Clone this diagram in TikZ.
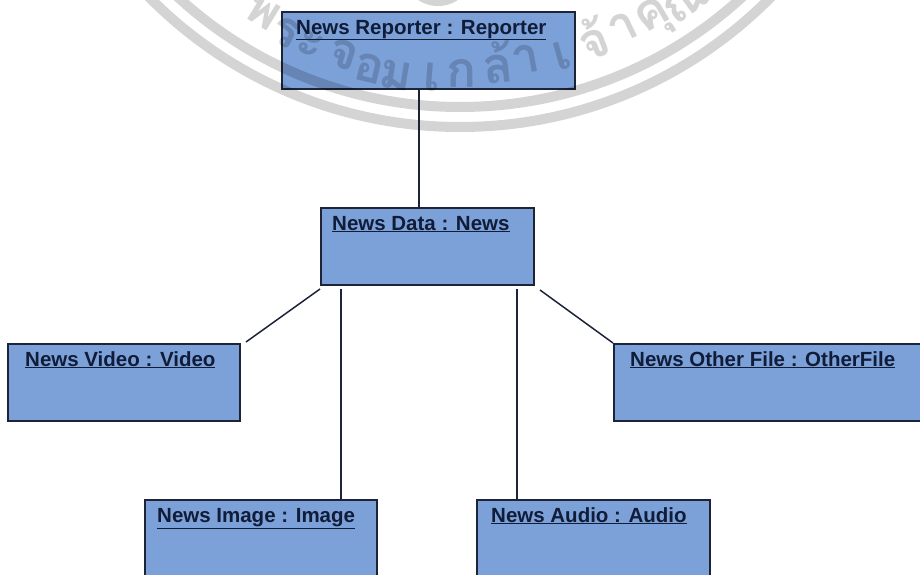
\documentclass[tikz,border=0pt]{standalone}
\usepackage{fontspec}
\setmainfont{Liberation Sans}
\newfontfamily\thaifont[Script=Thai]{Loma}
\definecolor{boxblue}{RGB}{124,161,217}
\definecolor{boxline}{RGB}{30,36,56}
\definecolor{titleink}{RGB}{16,28,56}
\tikzset{
	objbox/.style={draw=boxline,fill=boxblue,line width=1.5pt,anchor=north west,minimum height=77pt,inner sep=0pt},
	title/.style={anchor=base west,inner sep=0pt,text=titleink,font=\bfseries\fontsize{20.5}{24}\selectfont},
	link/.style={draw=boxline,line width=1.5pt},
	seal/.style={draw=black,opacity=0.17},
	sealtext/.style={text=black,text opacity=0.17,font=\thaifont\bfseries\fontsize{50}{54}\selectfont}
}
\begin{document}
\begin{tikzpicture}[x=1pt,y=-1pt]
		\useasboundingbox (0,0) rectangle (920,574);
		\clip (0,0) rectangle (920,574);
		
		\node[objbox,minimum width=293pt] (reporter) at (281,11) {};
		\node[objbox,minimum width=213pt] (data) at (320,207) {};
		\node[objbox,minimum width=232pt] (video) at (7,343) {};
		\node[objbox,minimum width=320pt] (otherfile) at (613,343) {};
		\node[objbox,minimum width=232pt] (image) at (144,499) {};
		\node[objbox,minimum width=233pt] (audio) at (476,499) {};
		
		\draw [seal,line width=10pt] (460,-310) circle (437);
		\draw [seal,line width=10pt] (460,-310) circle (417);
		\draw [seal,line width=6pt] (438,-30) circle (33);
		\foreach \glyph/\gx/\gy in {พ/263/12,ระ/298/38,จ/344/55,อ/369/68,ม/396/75,เ/432/77,ก/462/73,ล้/498/62,า/526/59,เ/562/56,จ้/593/38,า/623/28,คุ/655/20,ณ/686/2}{
			\pgfmathsetmacro\grot{atan2(\gx-460,\gy+310)}
			\node[sealtext,rotate=\grot] at (\gx,\gy) {\glyph};
		}
		
		\coordinate (reporterend) at (419,90);
		\coordinate (videostart) at (320,289);
		\coordinate (videoend) at (246,342);
		\coordinate (imagestart) at (341,289);
		\coordinate (audiostart) at (517,289);
		\coordinate (otherstart) at (540,290);
		\draw [link] (reporterend)--(reporterend |- data.north);
		\draw [link] (videostart)--(videoend);
		\draw [link] (imagestart)--(imagestart |- image.north);
		\draw [link] (audiostart)--(audiostart |- audio.north);
		\draw [link] (otherstart)--(otherfile.north west);
		
		\node[title] (reportertitle) at (296,34) {\underline{News Reporter : Reporter}};
		\node[title] (datatitle) at (332,230) {\underline{News Data : News}};
		\node[title] (videotitle) at (25,366) {\underline{News Video : Video}};
		\node[title] (othertitle) at (630,366) {\underline{News Other File : OtherFile}};
		\node[title] (imagetitle) at (157,522) {\underline{News Image : Image}};
		\node[title] (audiotitle) at (491,522) {\underline{News Audio : Audio}};
	\end{tikzpicture}
\end{document}
